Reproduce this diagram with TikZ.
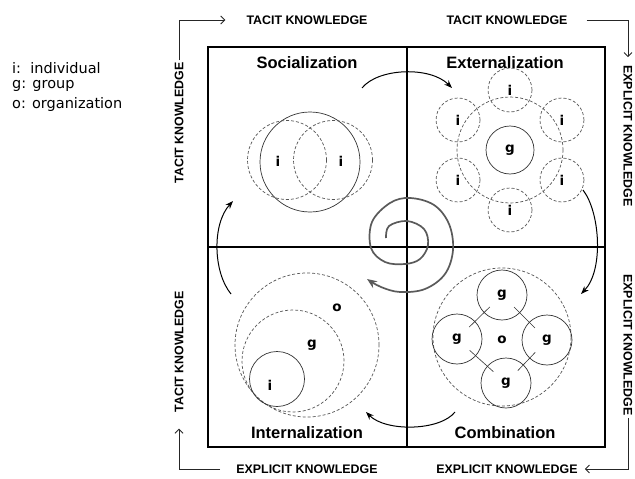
\documentclass[tikz,border=0pt]{standalone}
\usepackage{fontspec}
\setmainfont{Liberation Sans}
\newfontfamily\legendfont{DejaVu Sans}
\usepackage{tikz}
\usetikzlibrary{positioning,arrows.meta,calc}
\definecolor{seciline}{HTML}{333333}
\definecolor{secidash}{HTML}{555555}
\definecolor{secispiral}{HTML}{5A5A5A}

\begin{document}
\begin{tikzpicture}[x=1pt,y=-1pt,
  quad/.style={font=\bfseries\fontsize{16.5}{18}\selectfont},
  know/.style={font=\bfseries\fontsize{12.4}{14}\selectfont,inner sep=2pt},
  legend/.style={font=\legendfont\fontsize{14.5}{16}\selectfont,anchor=west,inner sep=0pt},
  letter/.style={font=\legendfont\bfseries\fontsize{13.5}{15}\selectfont},
  ring/.style={circle,draw=seciline,line width=0.7pt,inner sep=0pt},
  dring/.style={circle,draw=secidash,line width=0.7pt,dash pattern=on 3pt off 2pt,inner sep=0pt},
  grid/.style={draw=black,line width=1.3pt},
  frame/.style={draw=black!85,line width=0.9pt},
  barb/.style={-{Straight Barb[length=4pt,width=8pt]}},
  cycle/.style={draw=black,line width=1pt,-{Stealth[length=8pt,width=6pt]}},
  spiral/.style={draw=secispiral,line width=1.7pt,-{Stealth[length=10pt,width=8pt]}},
  link/.style={draw=seciline,line width=0.6pt,shorten <=17pt,shorten >=17pt}
]
\useasboundingbox (0,0) rectangle (635,479);

\node[legend] (legI) at (12,68) {i:\ \ individual};
\node[legend] (legG) at (12,86) {g: group};
\node[legend] (legO) at (12,104) {o: organization};

\draw[grid] (208,47) rectangle (605,447);
\draw[grid] (407,47) -- (407,447);
\draw[grid] (208,247) -- (605,247);

\node[quad] (soc) at (307,63) {Socialization};
\node[quad] (ext) at (505,63) {Externalization};
\node[quad] (int) at (307,433) {Internalization};
\node[quad] (com) at (505,433) {Combination};

\node[know] (tkTL) at (307,20) {TACIT KNOWLEDGE};
\node[know] (tkTR) at (507,20) {TACIT KNOWLEDGE};
\node[know] (ekBL) at (307,469) {EXPLICIT KNOWLEDGE};
\node[know] (ekBR) at (507,469) {EXPLICIT KNOWLEDGE};
\node[know,rotate=90] (tkLU) at (179,123) {TACIT KNOWLEDGE};
\node[know,rotate=90] (tkLL) at (179,352) {TACIT KNOWLEDGE};
\node[know,rotate=-90] (ekRU) at (628,136) {EXPLICIT KNOWLEDGE};
\node[know,rotate=-90] (ekRL) at (628,345) {EXPLICIT KNOWLEDGE};

\draw[frame,barb] (tkLU.east) |- ([xshift=-19pt]tkTL.west);
\draw[frame,barb] ([xshift=17pt]tkTR.east) -| ([yshift=6pt]ekRU.west);
\draw[frame,barb] (ekRL.east) |- ([xshift=5pt]ekBR.east);
\draw[frame,barb] ([xshift=-14pt]ekBL.west) -| ([yshift=-14pt]tkLL.west);

\node[ring,minimum size=100pt] (socInd) at (310,162) {};
\node[dring,minimum size=79pt] (socLeft) at (287,160) {};
\node[dring,minimum size=79pt] (socRight) at (333,160) {};
\node[letter] (socI1) at (278,161) {i};
\node[letter] (socI2) at (341,161) {i};

\node[dring,minimum size=106pt] (extRing) at (510,150) {};
\node[ring,letter,minimum size=48pt] (extG) at (510,150) {g};
\foreach \a [count=\k] in {90,30,-30,-90,-150,150}
  \node[dring,letter,minimum size=44pt] (extI\k) at ($(510,150)+(\a:60)$) {i};

\node[dring,minimum size=138pt] (comOrg) at (502,337) {};
\node[letter] (comO) at (502,340) {o};
\node[ring,letter,minimum size=50pt] (comG1) at (502,295) {g};
\node[ring,letter,minimum size=50pt] (comG2) at (457,339) {g};
\node[ring,letter,minimum size=50pt] (comG3) at (506,383) {g};
\node[ring,letter,minimum size=50pt] (comG4) at (547,340) {g};
\foreach \a/\b in {comG1/comG2,comG2/comG3,comG3/comG4,comG4/comG1}
  \draw[link] (\a.center) -- (\b.center);

\node[dring,minimum size=144pt] (intOrg) at (307,345) {};
\node[dring,minimum size=102pt] (intGrp) at (293,361) {};
\node[ring,minimum size=55pt] (intInd) at (277,379) {};
\node[letter] (intO) at (337,308) {o};
\node[letter] (intG) at (312,345) {g};
\node[letter] (intI) at (270,385) {i};

\coordinate (socOut) at (362,88);
\coordinate (extIn) at (452,88);
\coordinate (extOut) at (583,190);
\coordinate (comIn) at (581,294);
\coordinate (comOut) at (455,412);
\coordinate (intIn) at (366,412);
\coordinate (intOut) at (231,294);
\coordinate (socIn) at (233,201);
\draw[cycle] (socOut) .. controls (378,68) and (430,66) .. (extIn);
\draw[cycle] (extOut) .. controls (600,212) and (604,270) .. (comIn);
\draw[cycle] (comOut) .. controls (440,431) and (386,432) .. (intIn);
\draw[cycle] (intOut) .. controls (213,272) and (212,224) .. (socIn);

\draw[spiral] plot[smooth,tension=0.6] coordinates {(386,238) (389,226) (407,221) (424,229) (428,245) (420,259) (405,264) (385,262) (371,248) (372,222) (390,203) (410,198) (434,205) (449,224) (453,250) (445,274) (425,289) (400,292) (381,287) (367,279)};
\end{tikzpicture}
\end{document}
